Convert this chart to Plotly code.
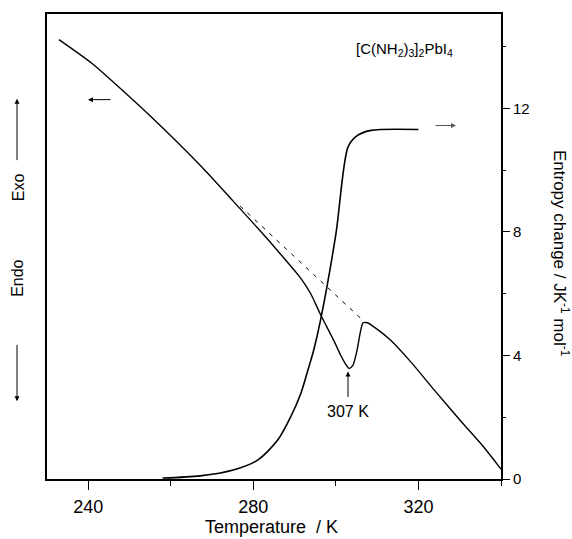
import plotly.graph_objects as go

# ---------------- data ----------------
# DSC trace (arbitrary units, plotted on hidden left axis with same 0-15 span)
dsc_T = [232.9, 241.0, 245.1, 254.9, 267.1, 275.1, 281.7, 286.6, 291.5,
         293.9, 296.3, 299.5, 301.2, 302.4, 303.2, 304.1, 305.1, 305.9, 306.6,
         307.6, 309.8, 313.4, 318.3, 323.9, 330.5, 335.4, 340.0]
dsc_v = [14.23, 13.45, 12.97, 11.77, 10.16, 9.00, 8.03, 7.28, 6.50,
         6.00, 5.32, 4.48, 4.00, 3.71, 3.58, 3.68, 4.16, 4.74, 5.06,
         5.06, 4.87, 4.48, 3.77, 2.87, 1.84, 1.10, 0.32]

# interpolated baseline under the peak (dashed)
base_T = [276.8, 306.6]
base_v = [8.84, 5.13]

# entropy change / J K^-1 mol^-1
ent_T = [258.0, 267.1, 275.1, 281.0, 285.9, 289.0, 291.5, 293.4, 294.6, 296.3,
         300.0, 302.9, 304.9, 308.5, 320.0]
ent_v = [0.03, 0.10, 0.29, 0.61, 1.26, 2.00, 2.77, 3.61, 4.16, 5.16,
         7.94, 10.74, 11.10, 11.29, 11.32]

x_ticks = [240, 280, 320]
y2_ticks = [0, 4, 8, 12]

# ---------------- figure ----------------
W, H = 572, 539
L, R, T, B = 47, 501, 12, 479
FONT = "Arial, Liberation Sans, sans-serif"


def px(x):
    return (x - L) / (R - L)


def py(y):
    return (B - y) / (B - T)


def label(x, y, text, size, angle=0, xanchor="center"):
    return dict(xref="paper", yref="paper", x=px(x), y=py(y), showarrow=False,
                xanchor=xanchor, yanchor="middle", text=text, textangle=angle,
                borderpad=0, font=dict(size=size, color="black", family=FONT))


def arrow(x, y, ax, ay, color="black"):
    return dict(xref="paper", yref="paper", x=px(x), y=py(y), ax=ax, ay=ay,
                showarrow=True, arrowhead=2, arrowsize=1, arrowwidth=1,
                arrowcolor=color, text="")


fig = go.Figure()
fig.add_trace(go.Scatter(x=dsc_T, y=dsc_v, mode="lines", yaxis="y",
                         line=dict(color="black", width=1.4, shape="spline",
                                   smoothing=0.8), showlegend=False))
fig.add_trace(go.Scatter(x=base_T, y=base_v, mode="lines", yaxis="y",
                         line=dict(color="black", width=1, dash="4px,6px"),
                         showlegend=False))
fig.add_trace(go.Scatter(x=ent_T, y=ent_v, mode="lines", yaxis="y2",
                         line=dict(color="black", width=1.6, shape="spline",
                                   smoothing=0.8), showlegend=False))

ann = [
    label(454, 48, "[C(NH<sub>2</sub>)<sub>3</sub>]<sub>2</sub>PbI<sub>4</sub>", 15,
          xanchor="right"),
    arrow(88, 98, 24, 0),
    arrow(456, 124, -22, 0, "#555"),
    arrow(348, 371, 0, 27),
    label(348, 411, "307 K", 16),
    label(18, 186, "Exo", 16, -90),
    label(18, 278, "Endo", 16, -90),
    arrow(17, 97, 0, 63),
    arrow(17, 401, 0, -58),
    label(561, 252, "Entropy change / JK<sup>-1</sup> mol<sup>-1</sup>", 17, 90),
    label(271, 527, "Temperature  / K", 18),
]

fig.update_layout(
    width=W, height=H,
    margin=dict(l=L, r=W - R, t=T, b=H - B, pad=0),
    paper_bgcolor="white", plot_bgcolor="white",
    font=dict(family=FONT, color="black", size=15),
    annotations=ann,
    xaxis=dict(range=[230, 340], tickvals=x_ticks, ticktext=[str(v) for v in x_ticks],
               ticks="outside", ticklen=9, tickwidth=1.2, tickcolor="black",
               minor=dict(tickvals=[260, 300, 340], ticks="outside", ticklen=5,
                          tickcolor="black", tickwidth=1),
               showline=True, linecolor="black", linewidth=1.5, mirror=True,
               showgrid=False, zeroline=False, ticklabelstandoff=2,
               tickfont=dict(size=18, family=FONT)),
    yaxis=dict(range=[0, 15.06], showticklabels=False, ticks="", showgrid=False,
               zeroline=False, showline=True, linecolor="black", linewidth=1.5,
               mirror=True),
    yaxis2=dict(range=[0, 15.06], overlaying="y", side="right", tickvals=y2_ticks,
                ticks="outside", ticklen=8, tickwidth=1.2, tickcolor="black",
                minor=dict(tickvals=[2, 6, 10, 14], ticks="outside", ticklen=4,
                           tickcolor="black", tickwidth=1),
                showgrid=False, zeroline=False, showline=False,
                tickfont=dict(size=15, family=FONT)),
)

fig.write_html("out.html")
